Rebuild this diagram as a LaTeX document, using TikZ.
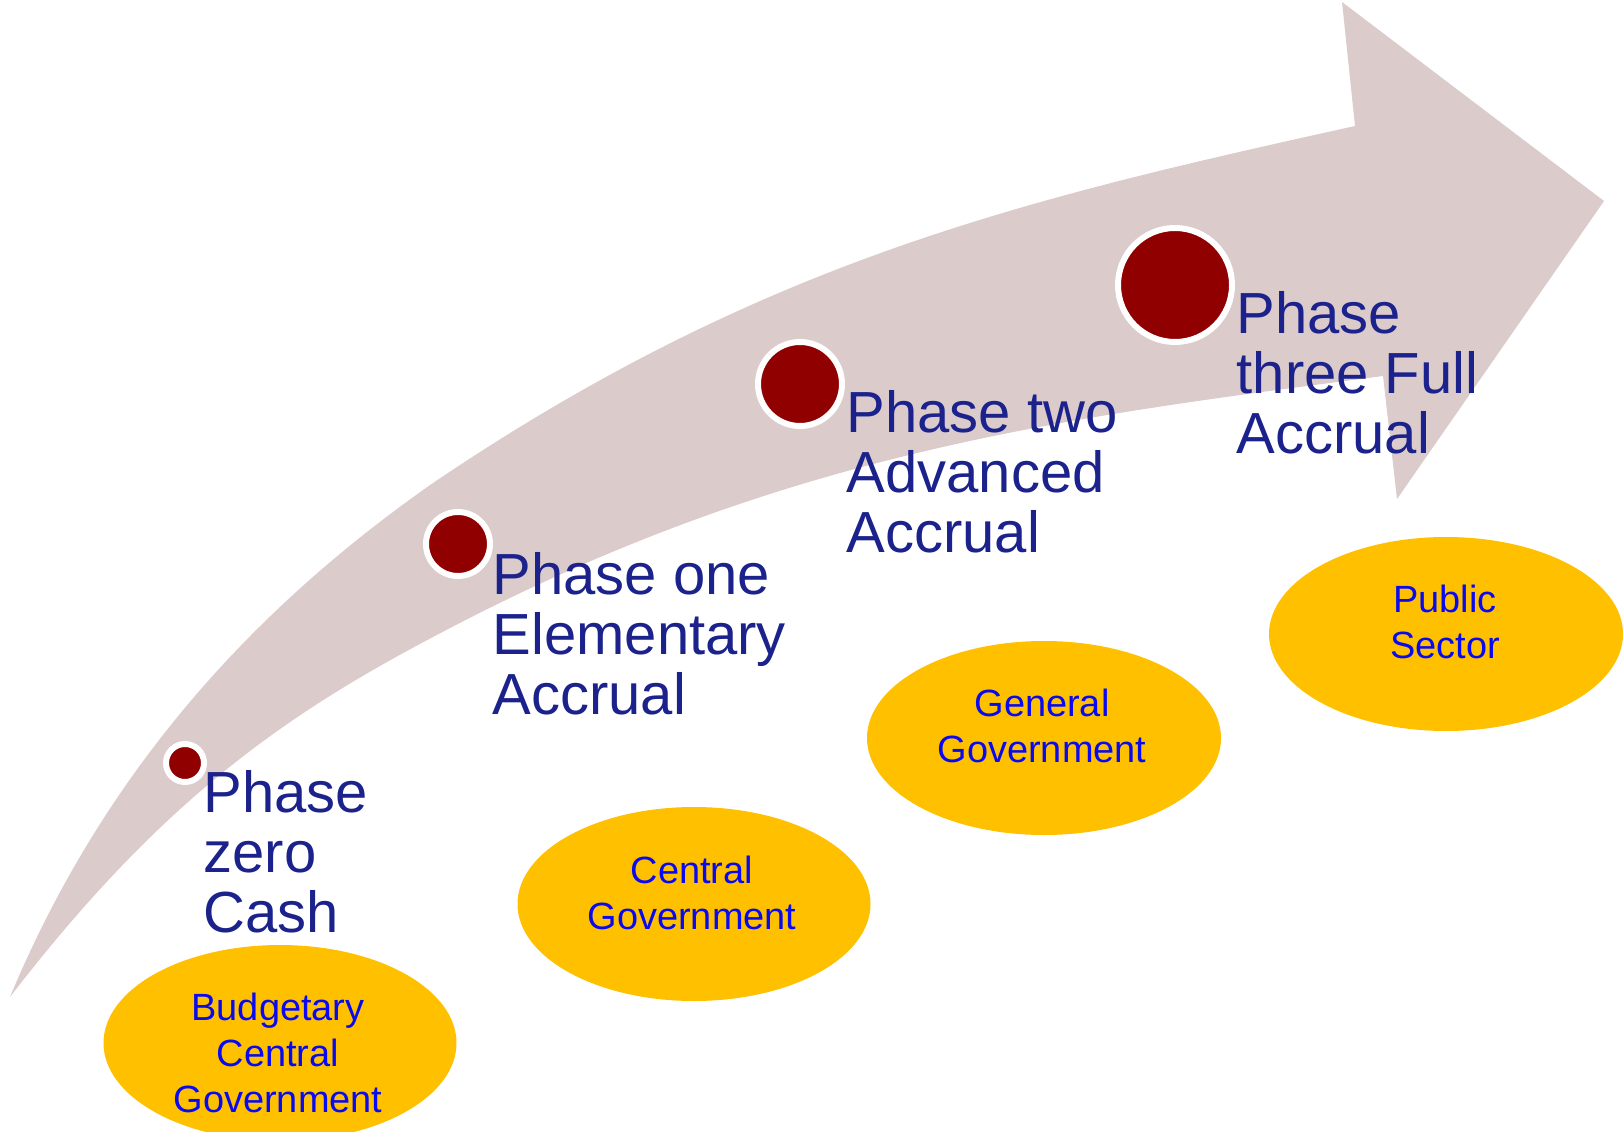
\documentclass[tikz,border=0pt]{standalone}
\usepackage{fontspec}
\setmainfont{Liberation Sans}
\usepackage{tikz}

\definecolor{bandpink}{RGB}{219,203,203}
\definecolor{phasered}{RGB}{145,0,0}
\definecolor{phaseblue}{RGB}{28,34,140}
\definecolor{sectoryellow}{RGB}{255,192,0}
\definecolor{sectorblue}{RGB}{10,10,240}

\begin{document}
\begin{tikzpicture}[
    phase/.style={align=left, anchor=north west, inner sep=0pt, text=phaseblue,
                  font=\fontsize{16.5}{17.1}\selectfont},
    dot/.style={circle, fill=phasered, draw=white, line width=1.7pt, inner sep=0pt},
    sector/.style={align=center, inner sep=0pt, text=sectorblue,
                   font=\fontsize{10.8}{13.1}\selectfont}
  ]
                % Frame
                \useasboundingbox (0,0) rectangle (16.23,11.31);

                % Curved arrow band
                \fill[bandpink] (0.10,1.34) .. controls (1.15,3.86) and (2.83,5.43) .. (4.33,6.48)
                  .. controls (7.63,8.71) and (10.25,9.32) .. (13.55,10.05)
                  -- (13.42,11.29) -- (16.04,9.30) -- (13.97,6.32) -- (13.83,7.55)
                  .. controls (10.63,7.13) and (7.83,6.80) .. (4.33,4.94)
                  .. controls (2.83,4.15) and (1.60,3.29) .. (0.10,1.34) -- cycle;

                % Phase dots
                \node[dot, minimum size=0.38cm] (zero) at (1.85,3.68) {};
                \node[dot, minimum size=0.64cm] (one) at (4.58,5.87) {};
                \node[dot, minimum size=0.84cm] (two) at (8.00,7.47) {};
                \node[dot, minimum size=1.14cm] (three) at (11.75,8.46) {};

                % Phase labels
                \node[phase] (zerotxt) at (2.03,3.61) {Phase\\zero\\Cash};
                \node[phase] (onetxt) at (4.92,5.79) {Phase one\\Elementary\\Accrual};
                \node[phase] (twotxt) at (8.46,7.41) {Phase two\\Advanced\\Accrual};
                \node[phase] (threetxt) at (12.36,8.40) {Phase\\three Full\\Accrual};

                % Sectors
                \fill[sectoryellow] (2.80,0.88) ellipse (1.765 and 0.98);
                \fill[sectoryellow] (6.94,2.27) ellipse (1.765 and 0.97);
                \fill[sectoryellow] (10.44,3.93) ellipse (1.77 and 0.97);
                \fill[sectoryellow] (14.46,4.97) ellipse (1.77 and 0.97);

                \node[sector] (budget) at (2.78,0.785) {Budgetary\\Central\\Government};
                \node[sector] (central) at (6.92,2.38) {Central\\Government};
                \node[sector] (general) at (10.42,4.05) {General\\Government};
                \node[sector] (public) at (14.45,5.09) {Public\\Sector};

\end{tikzpicture}
\end{document}
